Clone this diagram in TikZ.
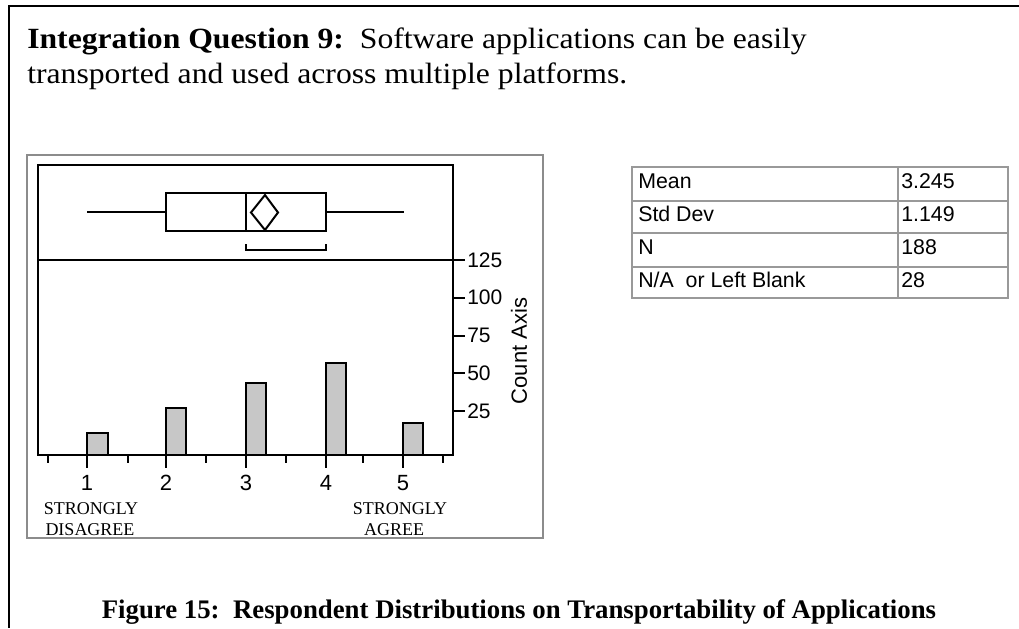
\documentclass[tikz,border=0pt]{standalone}
\usepackage{fontspec}
\setmainfont{Liberation Serif}
\setsansfont{Liberation Sans}
\newfontfamily\arialf{Liberation Sans}
\newfontfamily\titlefont[FakeStretch=1.08]{Liberation Serif}
\begin{document}
\begin{tikzpicture}[x=0.75pt,y=-0.75pt,
  outerline/.style={line width=1.8pt},
  plotline/.style={line width=1.5pt},
  grayframe/.style={draw=black!45,line width=1pt},
  tablegrid/.style={draw=black!40,line width=1pt},
  barbox/.style={draw=black,fill=black!22,line width=1.5pt},
  ticklab/.style={font=\arialf\fontsize{15.75}{18}\selectfont,anchor=west,inner sep=0pt},
  catlab/.style={font=\arialf\fontsize{16.5}{19}\selectfont,inner sep=0pt},
  anchorlab/.style={font=\fontsize{13.5}{16}\selectfont,inner sep=0pt},
  celltext/.style={font=\arialf\fontsize{16}{19}\selectfont,anchor=base west,inner sep=0pt},
  titletext/.style={font=\titlefont\fontsize{22}{26}\selectfont,anchor=base west,inner sep=0pt}]
\useasboundingbox (0,0) rectangle (1019,628);
% outer frame (top and left)
\draw[outerline] (1019,6) -- (9,6) -- (9,628);
% title
\node[titletext] (title1) at (27,48) {\textbf{Integration Question 9:}\ \ Software applications can be easily};
\node[titletext] (title2) at (27,83) {transported and used across multiple platforms.};
% chart frame
\draw[grayframe] (27,155) rectangle (543,538);
% plot frame
\draw[plotline] (38,165) rectangle (453,455);
\draw[plotline] (38,260) -- (453,260);
% box plot
\draw[plotline] (87,212) -- (166,212);
\draw[plotline] (326,212) -- (404,212);
\draw[plotline] (166,193) rectangle (326,231);
\draw[plotline] (246,193) -- (246,231);
\draw[plotline] (265,195) -- (278,212.5) -- (265,230) -- (251,212.5) -- cycle;
\draw[plotline] (246,244) -- (246,250) -- (326,250) -- (326,244);
% y ticks and labels
\foreach \yy/\lab in {260/125,297.75/100,335.5/75,373.25/50,411/25}{
  \draw[plotline] (453,\yy) -- (465,\yy);
  \node[ticklab] (yl\lab) at (467,\yy) {\lab};
}
\node[font=\arialf\fontsize{16.5}{18}\selectfont,rotate=90,inner sep=0pt] (countaxis) at (519,351) {Count Axis};
% bars
\draw[barbox] (87,455) rectangle (108,433);
\draw[barbox] (166,455) rectangle (186,408);
\draw[barbox] (246,455) rectangle (266,383);
\draw[barbox] (326,455) rectangle (346,363);
\draw[barbox] (403,455) rectangle (423,423);
\draw[plotline] (38,455) -- (453,455);
% x ticks
\foreach \xx/\lab in {87/1,166/2,246/3,326/4,403/5}{
  \draw[plotline] (\xx,455) -- (\xx,468);
  \node[catlab] (xl\lab) at (\xx,483) {\lab};
}
\foreach \xx in {48,128,206,286,363,443}{
  \draw[plotline] (\xx,455) -- (\xx,463);
}
% anchor labels
\node[anchorlab] (sd1) at (91,509) {STRONGLY};
\node[anchorlab] (sd2) at (90,529.5) {DISAGREE};
\node[anchorlab] (sa1) at (400,509) {STRONGLY};
\node[anchorlab] (sa2) at (394,529.5) {AGREE};
% table
\draw[tablegrid] (632,167) rectangle (1008,298);
\foreach \yy in {201,233,267}{ \draw[tablegrid] (632,\yy) -- (1008,\yy); }
\draw[tablegrid] (898,167) -- (898,298);
\node[celltext] (t1a) at (638,188) {Mean};
\node[celltext] (t1b) at (901,188) {3.245};
\node[celltext] (t2a) at (638,221) {Std Dev};
\node[celltext] (t2b) at (901,221) {1.149};
\node[celltext] (t3a) at (638,254) {N};
\node[celltext] (t3b) at (901,254) {188};
\node[celltext] (t4a) at (638,287) {N/A\ \ or Left Blank};
\node[celltext] (t4b) at (901,287) {28};
% caption
\node[font=\bfseries\fontsize{20.1}{23}\selectfont,anchor=base,inner sep=0pt] (caption) at (519,618) {Figure 15:\ \ Respondent Distributions on Transportability of Applications};
\end{tikzpicture}
\end{document}
